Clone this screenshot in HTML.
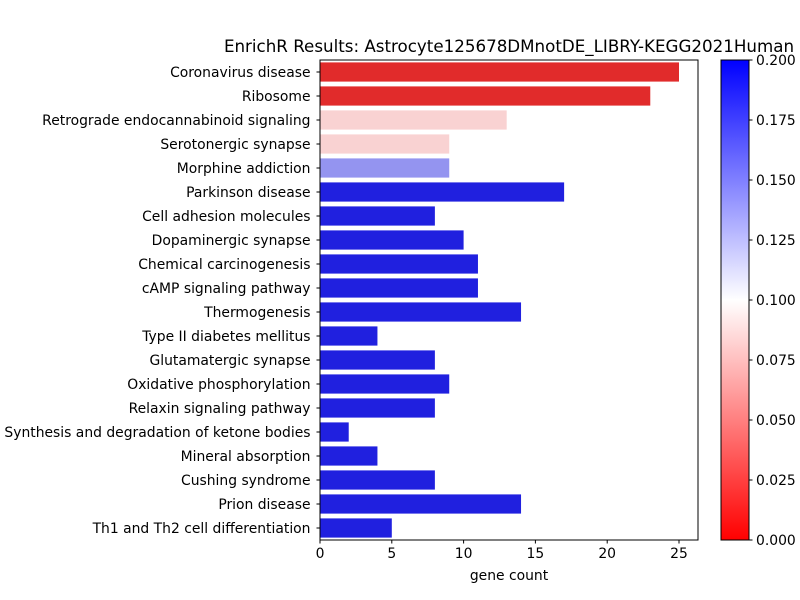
<!DOCTYPE html>
<html><head><meta charset="utf-8"><style>body{margin:0;background:#fff}svg{display:block;font-family:"DejaVu Sans","Liberation Sans",sans-serif}</style></head>
<body>
<svg id="c" width="800" height="600" xmlns="http://www.w3.org/2000/svg">
<defs><linearGradient id="cg" x1="0" y1="1" x2="0" y2="0"><stop offset="0" stop-color="#ff0000"/><stop offset="0.5" stop-color="#ffffff"/><stop offset="1" stop-color="#0000ff"/></linearGradient></defs>
<text x="509" y="52" font-size="16.7" text-anchor="middle">EnrichR Results: Astrocyte125678DMnotDE_LIBRY-KEGG2021Human</text>
<g id="plot"></g>
<text x="509" y="580" font-size="13.9" text-anchor="middle">gene count</text>
<rect x="721" y="60" width="28" height="480" fill="url(#cg)"/>
<rect x="721" y="60" width="28" height="480" fill="none" stroke="#000" stroke-width="1"/>
<g id="cbticks"></g>
</svg>
<script>
const categories=["Coronavirus disease","Ribosome","Retrograde endocannabinoid signaling","Serotonergic synapse","Morphine addiction","Parkinson disease","Cell adhesion molecules","Dopaminergic synapse","Chemical carcinogenesis","cAMP signaling pathway","Thermogenesis","Type II diabetes mellitus","Glutamatergic synapse","Oxidative phosphorylation","Relaxin signaling pathway","Synthesis and degradation of ketone bodies","Mineral absorption","Cushing syndrome","Prion disease","Th1 and Th2 cell differentiation"];
const counts=[25,23,13,9,9,17,8,10,11,11,14,4,8,9,8,2,4,8,14,5];
const pvalues=[0.005,0.005,0.08,0.08,0.148,0.2,0.2,0.2,0.2,0.2,0.2,0.2,0.2,0.2,0.2,0.2,0.2,0.2,0.2,0.2];
const xTicks=[0,5,10,15,20,25];
const cbTicks=[0,0.025,0.05,0.075,0.1,0.125,0.15,0.175,0.2];
const NS="http://www.w3.org/2000/svg";
const X0=320,X1=698,Y0=60,Y1=540,xs=(v)=>X0+v*(679-X0)/25;
const band=(Y1-Y0)/categories.length;
const cy=(v)=>540-v/0.2*480;
function mk(t,a,p){const e=document.createElementNS(NS,t);for(const k in a)e.setAttribute(k,a[k]);p.appendChild(e);return e;}
function color(p){let t=Math.min(1,Math.max(0,p/0.2));let r,g,b;if(t<0.5){r=1;g=b=2*t;}else{b=1;r=g=1-2*(t-0.5);}
 const mx=Math.max(r,g,b),mn=Math.min(r,g,b),l=(mx+mn)/2;if(mx===mn)return `rgb(${r*255},${g*255},${b*255})`;
 let s=l>0.5?(mx-mn)/(2-mx-mn):(mx-mn)/(mx+mn);s*=0.75;
 const f=c=>{const n=(c-mn)/(mx-mn);return l+s*(n-0.5)*2*(l>0.5?(1-l):l);};
 return `rgb(${Math.round(f(r)*255)},${Math.round(f(g)*255)},${Math.round(f(b)*255)})`;}
const g=document.getElementById('plot');
categories.forEach((c,i)=>{
 const y=Y0+i*band;
 const r=mk('rect',{x:xs(0),y:y+band*0.1,width:xs(counts[i])-xs(0),height:band*0.8,fill:color(pvalues[i])},g);
 
 
 mk('line',{x1:X0-3.5,x2:X0,y1:y+band/2,y2:y+band/2,stroke:'#000'},g);
 const t=mk('text',{x:X0-9.5,y:y+band/2+5,'font-size':13.9,'text-anchor':'end'},g);t.textContent=c;
 
 
});
xTicks.forEach(v=>{mk('line',{x1:xs(v),x2:xs(v),y1:Y1,y2:Y1+3.5,stroke:'#000'},g);
 const t=mk('text',{x:xs(v),y:Y1+18,'font-size':13.9,'text-anchor':'middle'},g);t.textContent=v;
 
 });
const fr=mk('rect',{x:X0,y:Y0,width:X1-X0,height:Y1-Y0,fill:'none',stroke:'#000','stroke-width':1},g);


const cb=document.getElementById('cbticks');
cbTicks.forEach(v=>{mk('line',{x1:749,x2:752.5,y1:cy(v),y2:cy(v),stroke:'#000'},cb);
 const t=mk('text',{x:756,y:cy(v)+5,'font-size':13.9},cb);t.textContent=v.toFixed(3);
 
 });
</script>
</body></html>
